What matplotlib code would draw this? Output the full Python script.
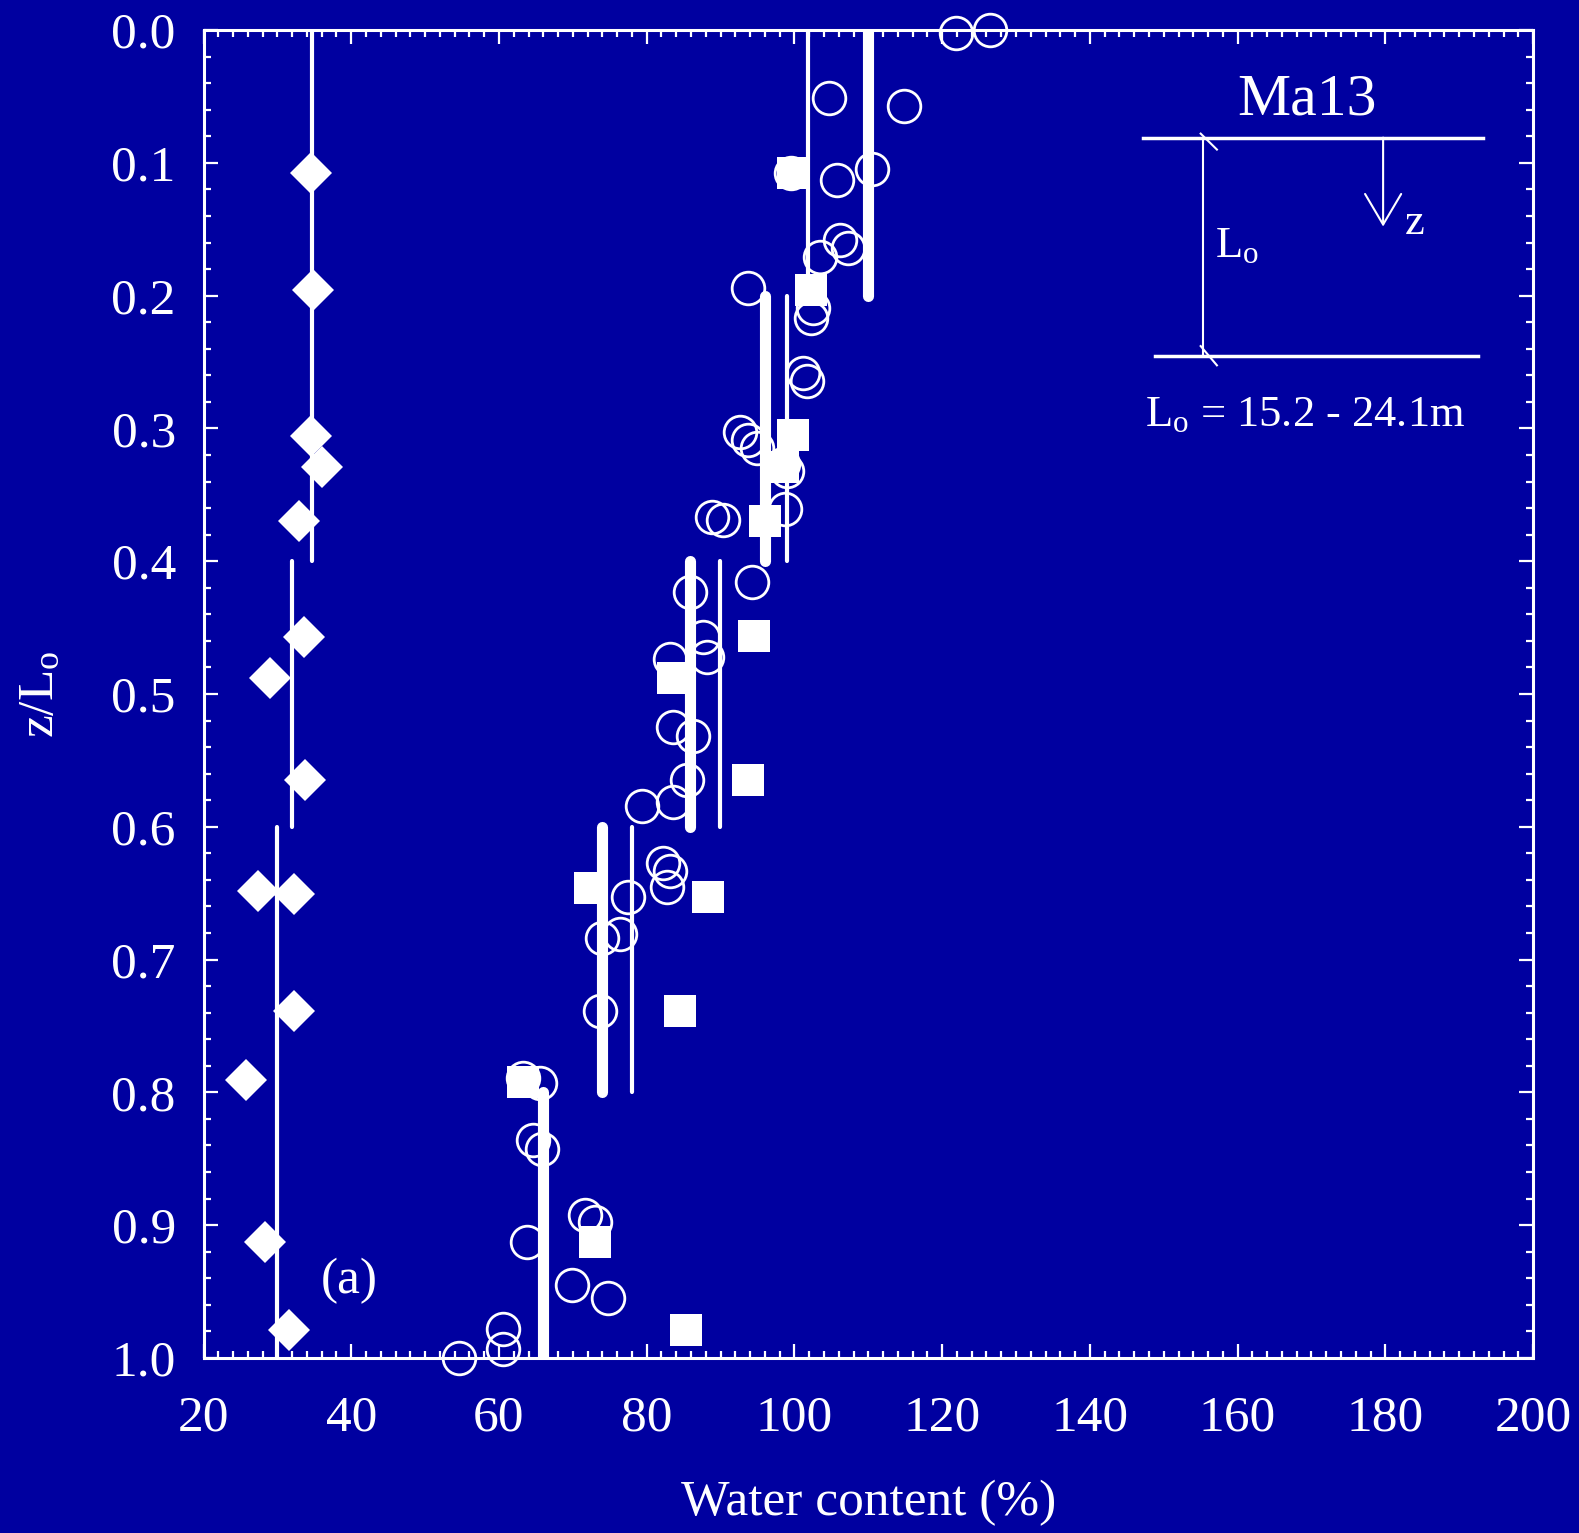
import numpy as np
import matplotlib
matplotlib.use("Agg")
import matplotlib.pyplot as plt
from matplotlib.ticker import MultipleLocator, FormatStrFormatter

# --- data (water content %, z/Lo) ---
circle_w = [121.9, 126.5, 104.7, 114.9, 99.6, 105.8, 110.5, 106.2, 107.3, 103.5,
            93.7, 102.5, 102.2, 101.2, 101.7, 92.6, 93.7, 95.0, 98.4, 99.0,
            88.8, 90.3, 98.7, 94.2, 85.9, 87.6, 88.2, 83.2, 83.6, 86.3,
            85.5, 83.6, 79.4, 82.2, 83.2, 82.7, 77.5, 76.4, 74.0, 73.7,
            63.3, 65.6, 64.6, 65.8, 71.6, 73.0, 63.8, 69.9, 74.8, 60.6,
            60.6, 54.6]
circle_z = [0.002, 0.000, 0.051, 0.057, 0.108, 0.113, 0.105, 0.158, 0.164, 0.171,
            0.194, 0.209, 0.217, 0.258, 0.264, 0.303, 0.309, 0.315, 0.327, 0.332,
            0.367, 0.369, 0.361, 0.416, 0.423, 0.457, 0.472, 0.474, 0.525, 0.532,
            0.565, 0.581, 0.584, 0.627, 0.633, 0.645, 0.653, 0.681, 0.684, 0.739,
            0.789, 0.793, 0.836, 0.843, 0.892, 0.898, 0.913, 0.945, 0.955, 0.978,
            0.993, 1.000]

square_w = [99.8, 102.2, 99.8, 98.4, 96.0, 94.5, 83.6, 93.7, 72.3, 88.3, 84.5, 63.3, 73.0, 85.3]
square_z = [0.108, 0.196, 0.305, 0.329, 0.370, 0.456, 0.488, 0.565, 0.646, 0.653, 0.739, 0.792, 0.913, 0.979]

diamond_w = [34.6, 34.85, 34.6, 36.1, 32.9, 33.6, 29.0, 33.8, 27.4, 32.3, 32.3, 25.8, 28.3, 31.6]
diamond_z = [0.108, 0.196, 0.306, 0.329, 0.370, 0.457, 0.488, 0.565, 0.648, 0.651, 0.739, 0.791, 0.913, 0.979]

# averages per depth interval
seg_top = [0.0, 0.2, 0.4, 0.6, 0.8]
seg_bot = [0.2, 0.4, 0.6, 0.8, 1.0]
thick_w = [110.0, 96.0, 85.9, 73.9, 66.0]
thin_w = [101.9, 99.0, 89.9, 78.0]
dia_top = [0.0, 0.4, 0.6]
dia_bot = [0.4, 0.6, 1.0]
dia_w = [34.7, 32.0, 29.9]

BG = "#0000A0"
plt.rcParams["font.family"] = "Liberation Serif"
plt.rcParams["mathtext.fontset"] = "custom"
plt.rcParams["mathtext.rm"] = "Liberation Serif"
plt.rcParams["mathtext.it"] = "Liberation Serif:italic"

fig = plt.figure(figsize=(15.79, 15.33), dpi=100, facecolor=BG)
ax = fig.add_axes([0.1289, 0.1142, 0.8420, 0.8662], facecolor=BG)

ax.plot(circle_w, circle_z, "o", ms=23.5, mfc="none", mec="white", mew=2.0, clip_on=False, zorder=3)

for w, a, b in zip(thick_w, seg_top, seg_bot):
    ax.plot([w, w], [a, b], color="white", lw=8, solid_capstyle="round", zorder=4)
for w, a, b in zip(thin_w, seg_top[:4], seg_bot[:4]):
    ax.plot([w, w], [a, b], color="white", lw=3, solid_capstyle="round", zorder=4)
for w, a, b in zip(dia_w, dia_top, dia_bot):
    ax.plot([w, w], [a, b], color="white", lw=3, solid_capstyle="round", zorder=4)

ax.plot(square_w, square_z, "s", ms=22.5, color="white", mew=0, clip_on=False, zorder=5)
ax.plot(diamond_w, diamond_z, "D", ms=21, color="white", mew=0, clip_on=False, zorder=5)

ax.set_xlim(20, 200)
ax.set_ylim(1.0, 0.0)
ax.xaxis.set_major_locator(MultipleLocator(20))
ax.xaxis.set_minor_locator(MultipleLocator(2))
ax.yaxis.set_major_locator(MultipleLocator(0.1))
ax.yaxis.set_minor_locator(MultipleLocator(0.02))
ax.yaxis.set_major_formatter(FormatStrFormatter("%.1f"))

for s in ax.spines.values():
    s.set_color("white")
    s.set_linewidth(2.2)
ax.tick_params(which="both", direction="in", top=True, right=True, colors="white",
               labelsize=37, width=1.6)
ax.tick_params(axis="y", which="major", length=10, pad=20)
ax.tick_params(axis="x", which="major", length=10, pad=27)
ax.tick_params(which="minor", length=5)

ax.set_xlabel("Water content (%)", color="white", fontsize=37, labelpad=27)
ax.set_ylabel(r"z/L$_{\rm o}$", color="white", fontsize=37, labelpad=34)

ax.text(39.7, 0.942, "(a)", color="white", fontsize=37, ha="center", va="center")

# inset sketch
ax.plot([147.2, 193.2], [0.081, 0.081], color="white", lw=2.5, zorder=4)
ax.plot([148.8, 192.5], [0.2455, 0.2455], color="white", lw=2.5, zorder=4)
ax.plot([155.3, 155.3], [0.081, 0.2455], color="white", lw=1.5, zorder=4)
ax.plot([155.0, 157.2], [0.078, 0.090], color="white", lw=1.5, zorder=4)
ax.plot([155.0, 157.2], [0.238, 0.2525], color="white", lw=1.5, zorder=4)
ax.annotate("", xy=(179.7, 0.148), xytext=(179.7, 0.081),
            arrowprops=dict(arrowstyle="->,head_length=1.1,head_width=0.65", color="white",
                            lw=1.5, shrinkA=0, shrinkB=0, mutation_scale=20))
ax.text(169.4, 0.053, "Ma13", color="white", fontsize=43, ha="center", va="center")
ax.text(184.0, 0.145, "z", color="white", fontsize=32, ha="center", va="center")
ax.text(157.0, 0.163, r"L$_{\rm o}$", color="white", fontsize=32, ha="left", va="center")
ax.text(147.4, 0.290, r"L$_{\rm o}$ = 15.2 - 24.1m", color="white", fontsize=32,
        ha="left", va="center")

fig.savefig("out.png", dpi=100, facecolor=BG)
